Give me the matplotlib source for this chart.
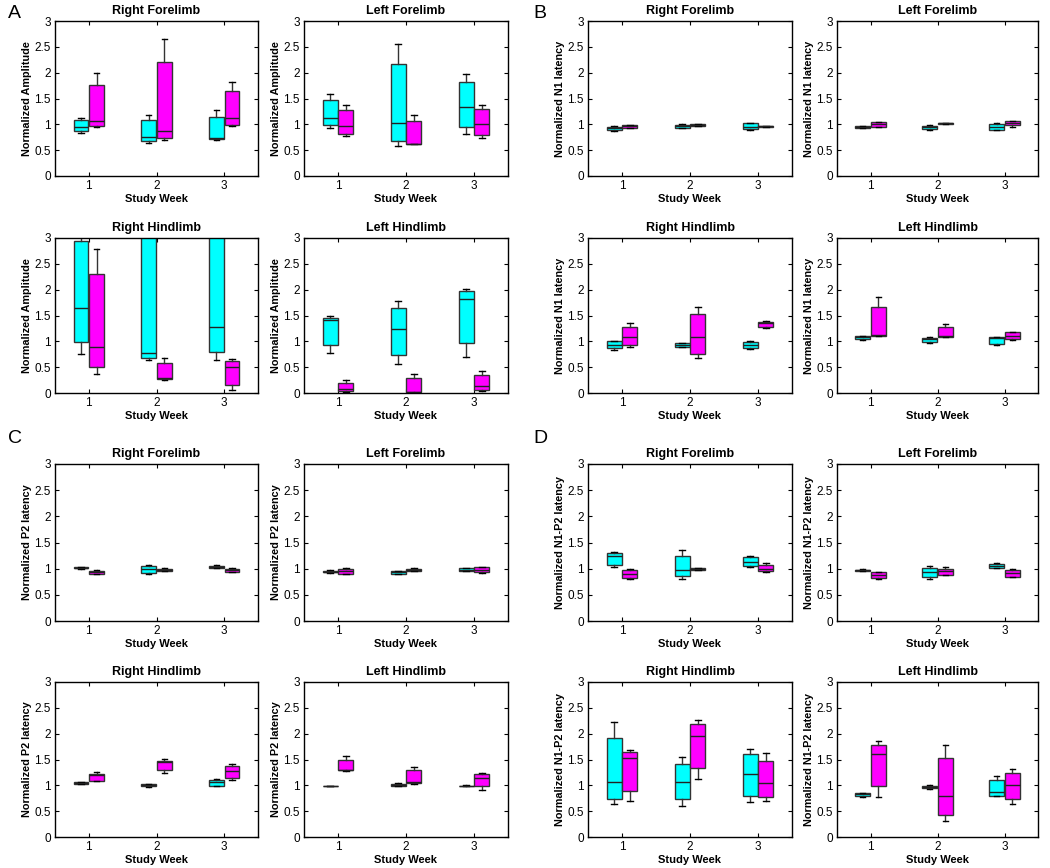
import numpy as np
import matplotlib
matplotlib.use("Agg")
import matplotlib.pyplot as plt
from matplotlib.ticker import FormatStrFormatter

plt.rcParams['font.family'] = ['Liberation Sans', 'DejaVu Sans']

weeks = [1, 2, 3]
limbs = ["Right Forelimb", "Left Forelimb", "Right Hindlimb", "Left Hindlimb"]
panel_letters = ["A", "B", "C", "D"]
ylabels = ["Normalized Amplitude", "Normalized N1 latency",
           "Normalized P2 latency", "Normalized N1-P2 latency"]
cyan = "#00ffff"
magenta = "#ff00ff"

# every box: [lower whisker, q1, median, q3, upper whisker], one per study week
# A - amplitude
amp_rf_c = [[0.84, 0.87, 0.94, 1.08, 1.13], [0.63, 0.67, 0.76, 1.08, 1.18], [0.70, 0.71, 0.74, 1.15, 1.27]]
amp_rf_m = [[0.94, 0.97, 1.07, 1.77, 2.00], [0.70, 0.73, 0.88, 2.21, 2.66], [0.97, 0.99, 1.13, 1.65, 1.82]]
amp_lf_c = [[0.93, 0.98, 1.13, 1.47, 1.58], [0.58, 0.68, 1.02, 2.16, 2.56], [0.81, 0.95, 1.34, 1.82, 1.98]]
amp_lf_m = [[0.77, 0.82, 0.97, 1.27, 1.37], [0.61, 0.61, 0.62, 1.06, 1.19], [0.73, 0.79, 1.00, 1.29, 1.38]]
amp_rh_c = [[0.75, 0.98, 1.65, 2.95, 3.20], [0.63, 0.68, 0.78, 3.40, 3.80], [0.63, 0.80, 1.28, 3.40, 3.80]]
amp_rh_m = [[0.36, 0.50, 0.90, 2.30, 2.79], [0.26, 0.27, 0.29, 0.58, 0.68], [0.05, 0.15, 0.50, 0.61, 0.65]]
amp_lh_c = [[0.78, 0.93, 1.41, 1.46, 1.49], [0.57, 0.74, 1.24, 1.65, 1.79], [0.70, 0.97, 1.81, 1.97, 2.02]]
amp_lh_m = [[0.01, 0.03, 0.08, 0.20, 0.25], [0.00, 0.01, 0.02, 0.29, 0.37], [0.04, 0.06, 0.14, 0.35, 0.42]]

# B - N1 latency
n1_rf_c = [[0.88, 0.89, 0.92, 0.95, 0.97], [0.92, 0.92, 0.96, 0.99, 1.01], [0.89, 0.91, 0.95, 1.02, 1.03]]
n1_rf_m = [[0.93, 0.93, 0.96, 0.98, 0.99], [0.97, 0.97, 0.99, 1.00, 1.01], [0.94, 0.94, 0.96, 0.97, 0.97]]
n1_lf_c = [[0.92, 0.92, 0.95, 0.97, 0.97], [0.90, 0.91, 0.94, 0.97, 0.98], [0.90, 0.90, 0.95, 1.01, 1.03]]
n1_lf_m = [[0.95, 0.95, 1.00, 1.04, 1.04], [1.01, 1.01, 1.02, 1.03, 1.03], [0.95, 0.98, 1.03, 1.06, 1.06]]
n1_rh_c = [[0.84, 0.88, 0.93, 1.00, 1.00], [0.89, 0.90, 0.93, 0.96, 0.97], [0.86, 0.88, 0.93, 0.98, 1.00]]
n1_rh_m = [[0.89, 0.93, 1.08, 1.28, 1.36], [0.67, 0.76, 1.08, 1.52, 1.67], [1.25, 1.28, 1.35, 1.38, 1.39]]
n1_lh_c = [[1.03, 1.04, 1.08, 1.10, 1.11], [0.96, 0.99, 1.05, 1.07, 1.09], [0.93, 0.95, 1.06, 1.08, 1.09]]
n1_lh_m = [[1.10, 1.11, 1.12, 1.67, 1.85], [1.09, 1.09, 1.11, 1.28, 1.34], [1.02, 1.05, 1.10, 1.18, 1.19]]

# C - P2 latency
p2_rf_c = [[1.00, 1.01, 1.02, 1.03, 1.04], [0.89, 0.92, 1.00, 1.05, 1.07], [1.02, 1.02, 1.04, 1.06, 1.07]]
p2_rf_m = [[0.90, 0.90, 0.93, 0.96, 0.97], [0.96, 0.96, 0.98, 1.00, 1.01], [0.93, 0.93, 0.97, 1.00, 1.01]]
p2_lf_c = [[0.92, 0.93, 0.94, 0.96, 0.97], [0.89, 0.90, 0.93, 0.95, 0.96], [0.95, 0.95, 0.98, 1.01, 1.02]]
p2_lf_m = [[0.90, 0.90, 0.96, 1.00, 1.01], [0.96, 0.96, 0.98, 1.00, 1.01], [0.91, 0.93, 0.98, 1.03, 1.04]]
p2_rh_c = [[1.02, 1.03, 1.05, 1.06, 1.07], [0.97, 0.98, 1.00, 1.02, 1.02], [0.98, 0.99, 1.06, 1.10, 1.12]]
p2_rh_m = [[1.08, 1.09, 1.20, 1.22, 1.26], [1.23, 1.29, 1.45, 1.48, 1.51], [1.10, 1.15, 1.28, 1.38, 1.41]]
p2_lh_c = [[0.98, 0.98, 0.98, 0.98, 0.98], [0.98, 0.98, 1.01, 1.03, 1.04], [0.98, 0.99, 0.99, 0.99, 1.00]]
p2_lh_m = [[1.28, 1.29, 1.30, 1.50, 1.57], [1.03, 1.04, 1.07, 1.29, 1.36], [0.91, 0.98, 1.15, 1.22, 1.23]]

# D - N1-P2 latency
np_rf_c = [[1.04, 1.07, 1.24, 1.30, 1.31], [0.81, 0.86, 0.97, 1.25, 1.35], [1.03, 1.06, 1.13, 1.22, 1.24]]
np_rf_m = [[0.81, 0.83, 0.90, 0.98, 1.00], [0.97, 0.97, 0.99, 1.01, 1.02], [0.94, 0.95, 1.00, 1.07, 1.11]]
np_lf_c = [[0.96, 0.96, 0.97, 0.98, 0.99], [0.81, 0.85, 0.94, 1.02, 1.05], [1.02, 1.02, 1.06, 1.09, 1.11]]
np_lf_m = [[0.80, 0.83, 0.88, 0.93, 0.93], [0.88, 0.88, 0.95, 0.99, 1.03], [0.84, 0.85, 0.91, 0.98, 1.00]]
np_rh_c = [[0.64, 0.74, 1.06, 1.92, 2.22], [0.60, 0.73, 1.07, 1.41, 1.54], [0.67, 0.80, 1.22, 1.60, 1.71]]
np_rh_m = [[0.69, 0.90, 1.52, 1.64, 1.68], [1.12, 1.33, 1.96, 2.19, 2.27], [0.69, 0.78, 1.05, 1.47, 1.62]]
np_lh_c = [[0.78, 0.79, 0.83, 0.85, 0.86], [0.93, 0.94, 0.97, 0.99, 1.00], [0.79, 0.80, 0.88, 1.10, 1.19]]
np_lh_m = [[0.77, 0.98, 1.60, 1.79, 1.86], [0.31, 0.43, 0.80, 1.53, 1.78], [0.64, 0.73, 1.01, 1.24, 1.32]]

panels = [
    [(amp_rf_c, amp_rf_m), (amp_lf_c, amp_lf_m), (amp_rh_c, amp_rh_m), (amp_lh_c, amp_lh_m)],
    [(n1_rf_c, n1_rf_m), (n1_lf_c, n1_lf_m), (n1_rh_c, n1_rh_m), (n1_lh_c, n1_lh_m)],
    [(p2_rf_c, p2_rf_m), (p2_lf_c, p2_lf_m), (p2_rh_c, p2_rh_m), (p2_lh_c, p2_lh_m)],
    [(np_rf_c, np_rf_m), (np_lf_c, np_lf_m), (np_rh_c, np_rh_m), (np_lh_c, np_lh_m)],
]

W, H = 1050, 868
# axes columns (left, right) and rows (top, bottom) in pixels
col_px = [(55, 258), (304, 508), (588, 792), (837, 1038)]
row_px = [(21, 176), (238, 393), (464, 621), (682, 837)]


def draw_boxes(ax, boxes, offset, color):
    stats = [dict(whislo=b[0], q1=b[1], med=b[2], q3=b[3], whishi=b[4]) for b in boxes]
    pos = [w + offset for w in weeks]
    ax.bxp(stats, positions=pos, widths=0.22, showfliers=False, patch_artist=True,
           capwidths=0.08, manage_ticks=False,
           boxprops=dict(facecolor=color, edgecolor="#333333", linewidth=1.0),
           medianprops=dict(color="#222222", linewidth=1.0),
           whiskerprops=dict(color="#333333", linewidth=1.0),
           capprops=dict(color="black", linewidth=1.0))


fig = plt.figure(figsize=(W / 100, H / 100), dpi=100)

for p in range(4):
    pc = (p % 2) * 2      # first column index of this panel
    pr = (p // 2) * 2     # first row index of this panel
    for k in range(4):
        c = pc + k % 2
        r = pr + k // 2
        x0, x1 = col_px[c]
        y0, y1 = row_px[r]
        ax = fig.add_axes([x0 / W, 1 - y1 / H, (x1 - x0) / W, (y1 - y0) / H])
        cyan_boxes, mag_boxes = panels[p][k]
        draw_boxes(ax, cyan_boxes, -0.115, cyan)
        draw_boxes(ax, mag_boxes, 0.115, magenta)

        ax.set_xlim(0.5, 3.5)
        ax.set_ylim(0, 3)
        ax.set_xticks(weeks)
        ax.set_yticks(np.arange(0, 3.01, 0.5))
        ax.yaxis.set_major_formatter(FormatStrFormatter("%g"))
        ax.tick_params(direction="in", top=True, right=True, length=3,
                       labelsize=8.5, width=0.8, pad=3)
        for s in ax.spines.values():
            s.set_linewidth(1.0)
        ax.set_title(limbs[k], fontsize=9, fontweight="bold", pad=5)
        ax.set_xlabel("Study Week", fontsize=8, fontweight="bold", labelpad=1)
        ax.set_ylabel(ylabels[p], fontsize=7.8, fontweight="bold", labelpad=1.5)

    lx = 8 if p % 2 == 0 else 533
    ly = 5 if p < 2 else 430
    fig.text(lx / W, 1 - ly / H, panel_letters[p], fontsize=14, va="top", ha="left")

fig.savefig("out.png", dpi=100)
